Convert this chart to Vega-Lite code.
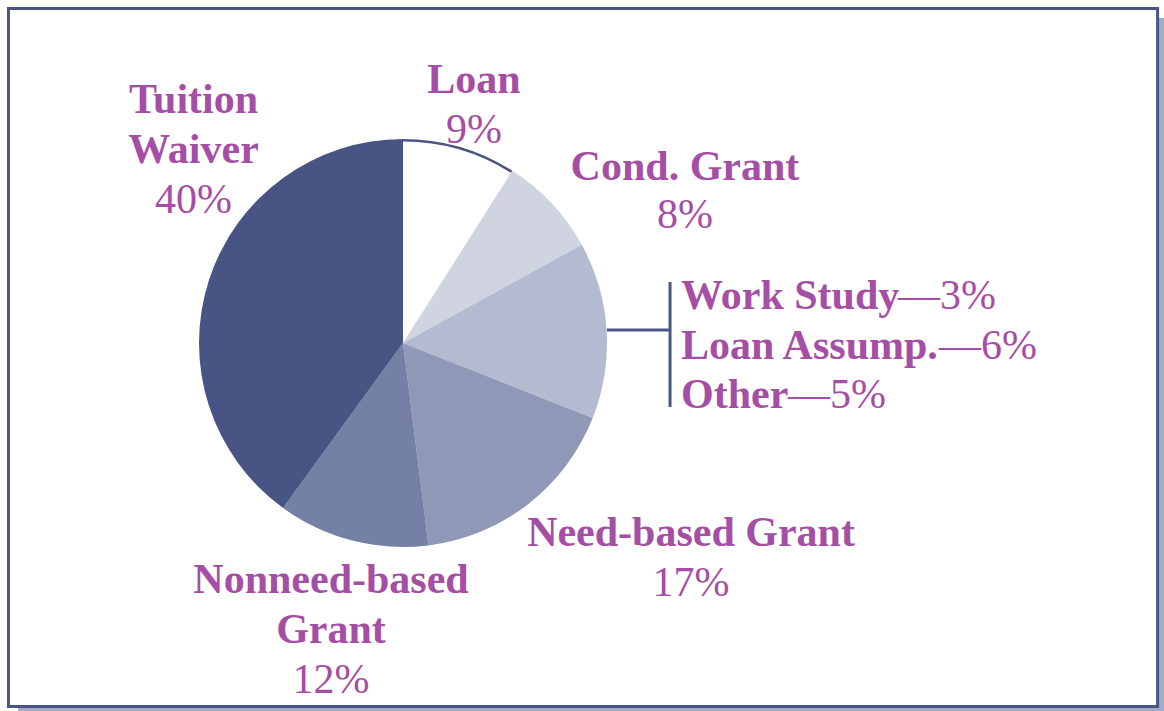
{
  "$schema": "https://vega.github.io/schema/vega-lite/v6.json",
  "width": 1164,
  "height": 711,
  "padding": 0,
  "autosize": {"type": "none"},
  "background": "white",
  "config": {"view": {"stroke": null}, "text": {"font": "Liberation Serif"}},
  "datasets": {
    "slices": [
      {"category": "Loan", "percent": 9, "order": 1},
      {"category": "Cond. Grant", "percent": 8, "order": 2},
      {"category": "Work Study / Loan Assump. / Other", "percent": 14, "order": 3},
      {"category": "Need-based Grant", "percent": 17, "order": 4},
      {"category": "Nonneed-based Grant", "percent": 12, "order": 5},
      {"category": "Tuition Waiver", "percent": 40, "order": 6}
    ],
    "labelLines": [
      {"text": "Tuition", "kind": "name", "x": -1.027, "y": -1.127},
      {"text": "Waiver", "kind": "name", "x": -1.027, "y": -0.882},
      {"text": "40%", "kind": "pct", "x": -1.027, "y": -0.637},
      {"text": "Loan", "kind": "name", "x": 0.348, "y": -1.225},
      {"text": "9%", "kind": "pct", "x": 0.348, "y": -0.980},
      {"text": "Cond. Grant", "kind": "name", "x": 1.382, "y": -0.799},
      {"text": "8%", "kind": "pct", "x": 1.382, "y": -0.564},
      {"text": "Need-based Grant", "kind": "name", "x": 1.412, "y": 0.995},
      {"text": "17%", "kind": "pct", "x": 1.412, "y": 1.240},
      {"text": "Nonneed-based", "kind": "name", "x": -0.353, "y": 1.225},
      {"text": "Grant", "kind": "name", "x": -0.353, "y": 1.471},
      {"text": "12%", "kind": "pct", "x": -0.353, "y": 1.716}
    ],
    "breakdown": [
      {"name": "Work Study", "pct": "—3%", "y": -0.167, "xp": 2.426},
      {"name": "Loan Assump.", "pct": "—6%", "y": 0.078, "xp": 2.627},
      {"name": "Other", "pct": "—5%", "y": 0.319, "xp": 1.887}
    ]
  },
  "layer": [
    {
      "data": {"values": [{}]},
      "mark": {"type": "rect", "color": "#A3ABC9"},
      "encoding": {
        "x": {"datum": -1.887, "type": "quantitative", "scale": {"domain": [-1.9755, 3.7304], "nice": false, "zero": false}, "axis": null},
        "x2": {"datum": 3.7304},
        "y": {"datum": -1.593, "type": "quantitative", "scale": {"domain": [-1.6814, 1.8039], "reverse": true, "nice": false, "zero": false}, "axis": null},
        "y2": {"datum": 1.8039}
      }
    },
    {
      "data": {"values": [{}]},
      "mark": {"type": "rect", "fill": "white", "stroke": "#4A5586", "strokeWidth": 3},
      "encoding": {
        "x": {"datum": -1.934, "type": "quantitative", "axis": null},
        "x2": {"datum": 3.699},
        "y": {"datum": -1.640, "type": "quantitative", "axis": null},
        "y2": {"datum": 1.782}
      }
    },
    {
      "data": {"name": "slices"},
      "mark": {"type": "arc", "outerRadius": 204},
      "encoding": {
        "theta": {"field": "percent", "type": "quantitative", "stack": true},
        "order": {"field": "order", "type": "quantitative"},
        "color": {
          "field": "category",
          "type": "nominal",
          "scale": {
            "domain": ["Loan", "Cond. Grant", "Work Study / Loan Assump. / Other", "Need-based Grant", "Nonneed-based Grant", "Tuition Waiver"],
            "range": ["#FFFFFF", "#D0D4E1", "#B4BACF", "#8F99B7", "#7480A4", "#475484"]
          },
          "legend": null
        },
        "x": {"datum": 0, "type": "quantitative", "axis": null},
        "y": {"datum": 0, "type": "quantitative", "axis": null}
      }
    },
    {
      "data": {"name": "slices"},
      "mark": {"type": "arc", "innerRadius": 201.5, "outerRadius": 204, "color": "#4A5586"},
      "encoding": {
        "theta": {"field": "percent", "type": "quantitative", "stack": true},
        "order": {"field": "order", "type": "quantitative"},
        "opacity": {"condition": {"test": "datum.category === 'Loan'", "value": 1}, "value": 0},
        "x": {"datum": 0, "type": "quantitative", "axis": null},
        "y": {"datum": 0, "type": "quantitative", "axis": null}
      }
    },
    {
      "data": {"values": [{}]},
      "mark": {"type": "rule", "color": "#4A5586", "strokeWidth": 3},
      "encoding": {
        "x": {"datum": 1.309, "type": "quantitative", "axis": null},
        "y": {"datum": -0.299, "type": "quantitative", "axis": null},
        "y2": {"datum": 0.314}
      }
    },
    {
      "data": {"values": [{}]},
      "mark": {"type": "rule", "color": "#4A5586", "strokeWidth": 3},
      "encoding": {
        "x": {"datum": 1.0, "type": "quantitative", "axis": null},
        "x2": {"datum": 1.309},
        "y": {"datum": -0.064, "type": "quantitative", "axis": null}
      }
    },
    {
      "data": {"name": "labelLines"},
      "transform": [{"filter": "datum.kind === 'name'"}],
      "mark": {"type": "text", "fontSize": 42, "fontWeight": "bold", "color": "#A54EA5", "align": "center", "baseline": "alphabetic"},
      "encoding": {
        "x": {"field": "x", "type": "quantitative", "axis": null},
        "y": {"field": "y", "type": "quantitative", "axis": null},
        "text": {"field": "text"}
      }
    },
    {
      "data": {"name": "labelLines"},
      "transform": [{"filter": "datum.kind === 'pct'"}],
      "mark": {"type": "text", "fontSize": 42, "fontWeight": "normal", "color": "#A54EA5", "align": "center", "baseline": "alphabetic"},
      "encoding": {
        "x": {"field": "x", "type": "quantitative", "axis": null},
        "y": {"field": "y", "type": "quantitative", "axis": null},
        "text": {"field": "text"}
      }
    },
    {
      "data": {"name": "breakdown"},
      "mark": {"type": "text", "fontSize": 42, "fontWeight": "bold", "color": "#A54EA5", "align": "left", "baseline": "alphabetic"},
      "encoding": {
        "x": {"datum": 1.363, "type": "quantitative", "axis": null},
        "y": {"field": "y", "type": "quantitative", "axis": null},
        "text": {"field": "name"}
      }
    },
    {
      "data": {"name": "breakdown"},
      "mark": {"type": "text", "fontSize": 42, "fontWeight": "normal", "color": "#A54EA5", "align": "left", "baseline": "alphabetic"},
      "encoding": {
        "x": {"field": "xp", "type": "quantitative", "axis": null},
        "y": {"field": "y", "type": "quantitative", "axis": null},
        "text": {"field": "pct"}
      }
    }
  ]
}
